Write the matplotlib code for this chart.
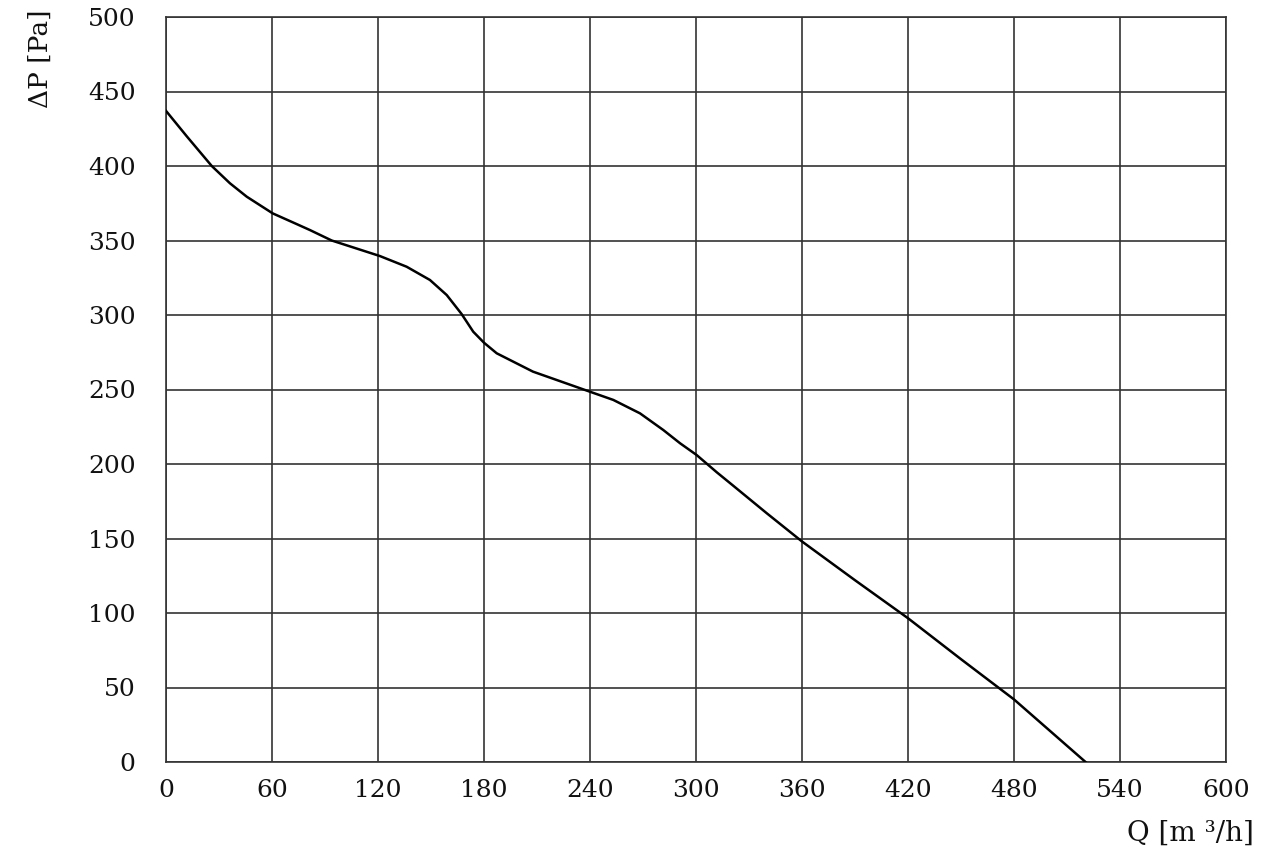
import numpy as np
import matplotlib
matplotlib.use("Agg")
import matplotlib.pyplot as plt

# fan curve
flow = [0, 11.7, 18.3, 25.9, 36.2, 45.7, 60.4, 74, 81.5, 93.8, 121,
        136.2, 149.4, 158.9, 167.3, 173.9, 180, 187.2, 194.7, 207.7,
        240, 253.2, 268.3, 281.5, 291, 300.4, 311.7, 321, 340, 360,
        390, 420, 450, 480, 520.5]
pressure = [437, 420, 410.7, 400, 388.4, 379.4, 368.2, 361, 357, 350, 339.6,
            332.4, 323.5, 313.4, 300.7, 288.8, 281.4, 274.3, 269.8, 262,
            248.5, 243, 234, 222.8, 213.9, 206, 194.5, 185.5, 167, 148,
            122, 96.5, 69, 42, 0]

x_ticks = np.arange(0, 601, 60)
y_ticks = np.arange(0, 501, 50)

plt.rcParams['font.family'] = ['DejaVu Serif']

fig = plt.figure(figsize=(12.76, 8.64), dpi=100)
ax = fig.add_axes([166 / 1276, 102 / 864, 1060 / 1276, 745 / 864])

ax.plot(flow, pressure, color='black', linewidth=1.8, zorder=3)

ax.set_xlim(0, 600)
ax.set_ylim(0, 500)
ax.set_xticks(x_ticks)
ax.set_yticks(y_ticks)
ax.grid(True, color='#333333', linewidth=1.2)
for spine in ax.spines.values():
    spine.set_color('#333333')
    spine.set_linewidth(1.2)

ax.tick_params(axis='both', length=0, labelsize=18, colors='#111111')
ax.tick_params(axis='x', pad=12)
ax.tick_params(axis='y', pad=22)

fig.text(40 / 1276, 1 - 59 / 864, "ΔP [Pa]", rotation=90, fontsize=19,
         ha='center', va='center', color='#111111')
fig.text(1190 / 1276, 1 - 833 / 864, "Q [m ³/h]", fontsize=20,
         ha='center', va='center', color='#111111')

fig.savefig("out.png", dpi=100, facecolor='white')
